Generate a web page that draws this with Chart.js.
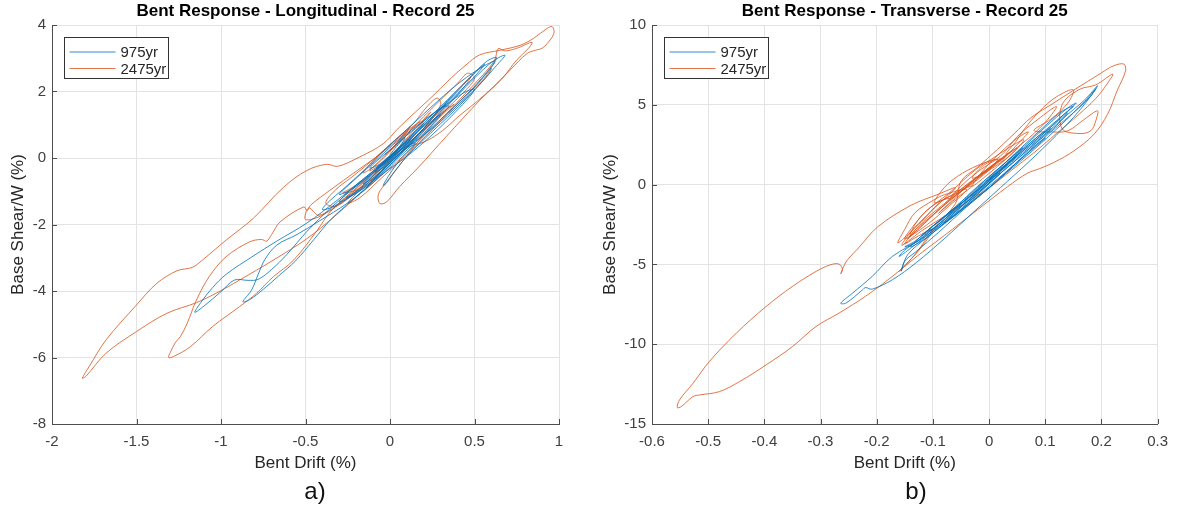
<!DOCTYPE html>
<html>
<head>
<meta charset="utf-8">
<script src="https://cdn.jsdelivr.net/npm/chart.js@4.4.1/dist/chart.umd.min.js"></script>
<style>
  body { margin: 0; background: #fff; width: 1177px; height: 506px; overflow: hidden; position: relative;
         font-family: 'Liberation Sans', Arial, Helvetica, sans-serif; }
  canvas { position: absolute; top: 0; }
  #longChart { left: 0; }
  #transChart { left: 590px; }
  .caption { position: absolute; top: 477px; font-size: 24px; line-height: 28px; color: #111; transform: translateX(-50%); }
</style>
</head>
<body>
<canvas id="longChart" width="590" height="506"></canvas>
<canvas id="transChart" width="587" height="506"></canvas>
<div class="caption" style="left:315px">a)</div>
<div class="caption" style="left:916px">b)</div>
<script>
// ============================================================
//  Bent response hysteresis - Record 25
// ============================================================

// ── Legend / series ───────────────────────────────────────
const seriesNames = ['975yr', '2475yr'];
const seriesColors = ['rgba(0,114,189,0.8)', 'rgba(217,83,25,0.8)'];

// ── Tick labels ───────────────────────────────────────────
const longDriftTicks = [-2, -1.5, -1, -0.5, 0, 0.5, 1];
const longShearTicks = [-8, -6, -4, -2, 0, 2, 4];
const transDriftTicks = [-0.6, -0.5, -0.4, -0.3, -0.2, -0.1, 0, 0.1, 0.2, 0.3];
const transShearTicks = [-15, -10, -5, 0, 5, 10];

// ── Longitudinal, 975yr: [drift %, base shear/W %] ───────
const long975 = [
  [0.00,0.10],[0.04,0.35],[0.09,0.62],[0.05,0.30],[-0.03,-0.05],[-0.08,-0.30],[-0.02,-0.12],[0.06,0.30],
  [0.14,0.75],[0.20,1.05],[0.13,0.60],[0.02,0.05],[-0.10,-0.50],[-0.16,-0.78],[-0.08,-0.52],[0.03,0.00],
  [0.15,0.60],[0.26,1.25],[0.33,1.60],[0.24,1.05],[0.10,0.40],[-0.05,-0.30],[-0.18,-0.92],[-0.26,-1.20],
  [-0.18,-1.00],[-0.05,-0.45],[0.10,0.30],[0.28,1.25],[0.45,2.15],[0.55,2.65],[0.62,2.95],[0.68,3.09],
  [0.63,2.78],[0.52,2.15],[0.38,1.42],[0.22,0.65],[0.10,0.05],[0.02,-0.45],[-0.02,-0.75],[-0.04,-0.83],
  [-0.01,-0.55],[0.06,-0.05],[0.15,0.45],[0.08,0.30],[-0.05,-0.20],[-0.20,-0.85],[-0.35,-1.50],[-0.49,-2.20],
  [-0.61,-2.90],[-0.70,-3.35],[-0.78,-3.65],[-0.84,-3.68],[-0.92,-3.67],[-1.00,-4.02],[-1.10,-4.45],[-1.155,-4.64],
  [-1.12,-4.35],[-1.05,-3.90],[-0.97,-3.50],[-0.81,-2.95],[-0.67,-2.50],[-0.49,-1.95],[-0.32,-1.30],[-0.15,-0.60],
  [0.00,0.05],[0.15,0.80],[0.30,1.55],[0.45,2.30],[0.57,2.90],[0.63,3.02],[0.60,2.75],[0.48,2.05],
  [0.34,1.35],[0.20,0.70],[0.05,0.00],[-0.10,-0.75],[-0.25,-1.35],[-0.42,-1.90],[-0.55,-2.30],[-0.67,-2.62],
  [-0.74,-3.05],[-0.78,-3.50],[-0.82,-3.98],[-0.87,-4.32],[-0.83,-4.26],[-0.75,-3.95],[-0.66,-3.55],[-0.56,-3.10],
  [-0.45,-2.45],[-0.35,-1.85],[-0.22,-1.25],[-0.10,-0.70],[0.02,-0.10],[0.12,0.45],[0.22,1.00],[0.30,1.30],
  [0.20,0.75],[0.06,0.15],[-0.06,-0.45],[-0.14,-0.90],[-0.07,-0.50],[0.04,0.05],[0.12,0.55],[0.07,0.38],
  [-0.02,-0.10],[-0.09,-0.42],[-0.03,-0.25],[0.05,0.20],[0.10,0.48],[0.04,0.22],[-0.04,-0.15],[0.02,0.12],
  [0.40,1.95],[0.50,2.45],[0.56,2.82],[0.50,2.55],[0.36,1.80],[0.18,0.90],[0.05,0.25],[-0.10,-0.40],
  [-0.24,-0.98],[-0.30,-1.32],[-0.22,-1.10],[-0.08,-0.55],[0.05,0.10],[0.15,0.50],[0.30,1.10],[0.45,1.85],
  [0.58,2.60],[0.62,2.90],[0.55,2.75],[0.42,2.30],[0.28,1.70],[0.12,0.95],[-0.02,0.30],[-0.15,-0.35],
  [-0.28,-0.95],[-0.36,-1.30],[-0.40,-1.55],[-0.33,-1.45],[-0.20,-1.05],[-0.05,-0.50],[0.10,0.05],[0.25,0.70],
  [0.40,1.45],[0.50,2.05],[0.45,2.00],[0.33,1.60],[0.18,1.05],[0.03,0.45],[-0.10,-0.15],[-0.22,-0.70],
  [-0.30,-1.10],[-0.20,-0.85],[-0.08,-0.35],[0.06,0.25],[0.20,0.85],[0.35,1.55],[0.30,1.50],[0.15,0.90],
  [0.00,0.25],[-0.12,-0.30],[-0.05,-0.15],[0.08,0.40]
];

// ── Longitudinal, 2475yr ──────────────────────────────────
const long2475 = [
  [0.00,0.20],[0.06,0.58],[0.12,0.95],[0.07,0.60],[-0.04,0.02],[-0.12,-0.38],[-0.06,-0.20],[0.05,0.32],
  [0.17,1.00],[0.24,1.38],[0.16,0.88],[0.03,0.20],[-0.10,-0.45],[-0.22,-0.88],[-0.28,-1.05],[-0.18,-0.92],
  [-0.04,-0.32],[0.12,0.55],[0.28,1.40],[0.40,2.05],[0.48,2.45],[0.42,2.02],[0.30,1.42],[0.14,0.68],
  [-0.02,-0.05],[-0.16,-0.75],[-0.30,-1.35],[-0.42,-1.72],[-0.48,-1.50],[-0.50,-1.85],[-0.40,-1.72],[-0.25,-1.20],
  [-0.08,-0.45],[0.10,0.30],[0.21,0.50],[0.31,0.82],[0.41,1.27],[0.51,1.68],[0.61,2.13],[0.71,2.64],
  [0.81,3.14],[0.86,3.24],[0.90,3.30],[0.93,3.44],[0.97,3.75],[0.96,3.95],[0.93,3.90],[0.85,3.60],
  [0.77,3.39],[0.65,3.24],[0.53,3.10],[0.45,2.80],[0.35,2.35],[0.25,1.85],[0.15,1.38],[0.05,0.90],
  [-0.04,0.43],[-0.18,0.03],[-0.31,-0.25],[-0.375,-0.19],[-0.49,-0.37],[-0.63,-0.88],[-0.81,-1.82],[-0.97,-2.47],
  [-1.11,-3.07],[-1.17,-3.29],[-1.26,-3.39],[-1.38,-3.77],[-1.50,-4.42],[-1.68,-5.47],[-1.78,-6.27],[-1.82,-6.62],
  [-1.80,-6.57],[-1.68,-5.87],[-1.50,-5.22],[-1.32,-4.67],[-1.145,-4.35],[-1.03,-4.07],[-0.89,-3.67],[-0.69,-3.07],
  [-0.49,-2.42],[-0.32,-1.72],[-0.15,-0.95],[0.00,-0.30],[0.15,0.40],[0.30,1.15],[0.42,1.80],[0.55,2.50],
  [0.62,2.95],[0.64,3.29],[0.68,3.22],[0.75,3.30],[0.84,3.48],[0.82,3.30],[0.75,2.95],[0.665,2.40],
  [0.53,1.73],[0.33,0.63],[0.17,-0.27],[0.055,-0.87],[-0.02,-1.32],[-0.06,-1.37],[-0.07,-1.12],[-0.04,-0.85],
  [0.03,-0.40],[0.12,0.20],[0.20,0.70],[0.32,1.35],[0.38,1.62],[0.28,1.25],[0.12,0.50],[-0.05,-0.25],
  [-0.20,-0.90],[-0.35,-1.60],[-0.43,-2.17],[-0.57,-3.07],[-0.69,-3.57],[-0.79,-4.07],[-0.89,-4.47],[-1.05,-5.07],
  [-1.18,-5.67],[-1.28,-5.97],[-1.31,-6.00],[-1.30,-5.85],[-1.27,-5.55],[-1.24,-5.37],[-1.20,-4.97],[-1.145,-4.27],
  [-1.07,-3.57],[-0.97,-2.97],[-0.83,-2.52],[-0.76,-2.45],[-0.73,-2.50],[-0.70,-2.30],[-0.65,-1.92],[-0.51,-1.47],
  [-0.49,-1.58],[-0.47,-1.42],[-0.35,-0.95],[-0.20,-0.40],[-0.05,0.15],[0.08,0.70],[0.18,1.10],[0.10,0.82],
  [-0.02,0.30],[-0.10,-0.10],[-0.16,-0.45],[-0.08,-0.20],[0.03,0.35],[0.12,0.78],[0.06,0.50],[-0.03,0.10],
  [0.05,0.45],[0.20,1.25],[0.32,1.85],[0.40,2.25],[0.46,2.55],[0.50,2.40],[0.45,2.05],[0.35,1.55],
  [0.22,0.90],[0.08,0.25],[-0.08,-0.45],[-0.22,-1.10],[-0.32,-1.45],[-0.38,-1.35],[-0.32,-0.95],[-0.22,-0.55],
  [-0.10,-0.05],[0.02,0.50],[0.14,1.05],[0.22,1.55],[0.28,1.80],[0.30,1.60],[0.24,1.15],[0.14,0.55],
  [0.02,-0.05],[-0.12,-0.70],[-0.25,-1.35],[-0.18,-1.20],[-0.05,-0.60],[0.10,0.10],[0.25,0.85],[0.42,1.75],
  [0.55,2.35],[0.60,2.70],[0.58,2.50],[0.48,1.95],[0.35,1.35]
];

// ── Transverse, 975yr ─────────────────────────────────────
const trans975 = [
  [0.00,0.40],[0.03,1.40],[0.06,2.30],[0.04,1.60],[0.00,0.30],[-0.04,-0.90],[-0.07,-1.70],[-0.05,-1.20],
  [-0.01,0.10],[0.03,1.20],[0.05,1.80],[0.02,1.00],[-0.02,-0.30],[-0.06,-1.50],[-0.10,-2.60],[-0.12,-3.20],
  [-0.09,-2.50],[-0.05,-1.20],[0.00,0.20],[0.05,1.80],[0.09,3.00],[0.12,3.90],[0.14,4.50],[0.12,3.70],
  [0.08,2.50],[0.03,1.00],[-0.03,-0.80],[-0.08,-2.20],[-0.13,-3.60],[-0.15,-4.10],[-0.16,-4.50],[-0.14,-4.00],
  [-0.10,-2.90],[-0.05,-1.40],[0.01,0.40],[0.07,2.20],[0.13,4.10],[0.17,5.30],[0.193,6.19],[0.18,5.50],
  [0.15,4.50],[0.11,3.30],[0.06,1.70],[0.00,-0.10],[-0.06,-1.90],[-0.12,-3.40],[-0.172,-4.50],[-0.208,-5.75],
  [-0.243,-6.80],[-0.264,-7.43],[-0.255,-7.43],[-0.225,-6.59],[-0.22,-6.45],[-0.208,-6.55],[-0.172,-5.96],[-0.13,-4.90],
  [-0.08,-3.40],[-0.03,-1.80],[0.02,-0.20],[0.07,1.40],[0.12,3.10],[0.16,4.60],[0.19,6.00],[0.17,5.20],
  [0.13,3.80],[0.08,2.20],[0.03,0.70],[-0.02,-0.80],[-0.07,-2.20],[-0.11,-3.30],[-0.145,-4.40],[-0.156,-5.42],
  [-0.150,-4.79],[-0.13,-4.20],[-0.09,-3.00],[-0.04,-1.40],[0.01,0.10],[0.06,1.70],[0.10,2.90],[0.08,2.40],
  [0.04,1.10],[0.00,-0.20],[-0.04,-1.30],[-0.08,-2.40],[-0.06,-1.90],[-0.02,-0.60],[0.02,0.70],[0.00,0.30],
  [0.02,0.90],[0.06,2.10],[0.10,3.30],[0.13,4.30],[0.15,4.90],[0.13,4.60],[0.10,3.70],[0.06,2.40],
  [0.02,1.10],[-0.02,-0.10],[-0.06,-1.40],[-0.10,-2.60],[-0.13,-3.50],[-0.15,-3.90],[-0.13,-3.60],[-0.10,-2.80],
  [-0.06,-1.60],[-0.02,-0.40],[0.02,0.80],[0.06,2.00],[0.09,2.90],[0.11,3.50],[0.09,3.10],[0.05,1.90],
  [0.01,0.60],[-0.03,-0.60],[-0.07,-1.80],[-0.11,-2.90],[-0.09,-2.60],[-0.05,-1.40],[-0.01,-0.10],[0.03,1.20],
  [0.07,2.50],[0.12,4.00],[0.155,5.10],[0.14,4.80],[0.10,3.60],[0.05,2.00],[0.00,0.50],[-0.04,-0.80],
  [-0.08,-2.00],[-0.12,-3.20],[-0.14,-3.90],[-0.11,-3.30],[-0.07,-2.10],[-0.03,-0.90],[0.01,0.40]
];

// ── Transverse, 2475yr ────────────────────────────────────
const trans2475 = [
  [-0.02,0.40],[0.01,1.30],[0.04,2.10],[0.02,1.60],[-0.02,0.50],[-0.05,-0.40],[-0.07,-0.90],[-0.05,-0.10],
  [-0.02,0.80],[0.01,1.50],[0.02,1.60],[-0.01,0.80],[-0.05,-0.30],[-0.097,-1.15],[-0.08,-0.20],[-0.056,0.52],
  [-0.02,1.20],[0.015,1.56],[-0.01,0.60],[-0.05,-0.40],[-0.085,-1.05],[-0.12,-2.30],[-0.162,-3.65],[-0.15,-2.80],
  [-0.132,-1.77],[-0.10,-1.00],[-0.079,-0.63],[-0.04,-0.31],[-0.07,-1.30],[-0.11,-2.50],[-0.15,-3.40],[-0.135,-2.60],
  [-0.11,-1.60],[-0.07,-0.50],[-0.038,0.52],[-0.01,1.30],[0.003,1.56],[0.035,2.30],[0.062,2.81],[0.04,1.90],
  [0.00,0.90],[-0.03,0.40],[-0.01,1.20],[0.02,1.77],[0.05,3.00],[0.08,3.90],[0.12,4.90],[0.10,3.90],
  [0.06,2.60],[0.03,1.90],[0.05,2.80],[0.062,3.44],[0.09,4.60],[0.12,5.50],[0.15,5.94],[0.14,5.10],
  [0.11,4.10],[0.08,3.40],[0.11,3.30],[0.14,3.37],[0.17,4.10],[0.193,4.62],[0.19,4.00],[0.181,3.37],
  [0.16,3.20],[0.13,3.50],[0.13,5.00],[0.16,5.95],[0.19,6.25],[0.22,6.92],[0.21,6.30],[0.19,5.40],
  [0.16,4.40],[0.12,3.20],[0.08,2.00],[0.04,0.90],[0.00,-0.20],[-0.04,-1.10],[-0.08,-2.00],[-0.12,-2.90],
  [-0.155,-3.80],[-0.14,-3.00],[-0.11,-1.90],[-0.08,-0.90],[-0.06,-0.20],[-0.09,-0.60],[-0.139,-1.30],[-0.198,-2.64],
  [-0.232,-3.95],[-0.252,-4.71],[-0.257,-5.00],[-0.262,-5.40],[-0.264,-5.59],[-0.261,-5.30],[-0.267,-4.98],[-0.282,-5.02],
  [-0.308,-5.44],[-0.350,-6.38],[-0.397,-7.64],[-0.450,-9.31],[-0.498,-11.09],[-0.527,-12.45],[-0.551,-13.49],[-0.555,-13.97],
  [-0.548,-13.91],[-0.527,-13.28],[-0.515,-13.18],[-0.480,-12.97],[-0.444,-12.34],[-0.397,-11.30],[-0.350,-10.15],[-0.308,-8.89],
  [-0.267,-8.05],[-0.220,-7.00],[-0.172,-5.75],[-0.125,-4.40],[-0.080,-3.20],[-0.021,-1.59],[0.033,-0.13],[0.068,0.71],
  [0.090,1.00],[0.116,1.40],[0.151,2.11],[0.187,3.16],[0.211,4.41],[0.228,5.88],[0.243,7.13],[0.240,7.55],
  [0.222,7.45],[0.200,7.00],[0.175,6.45],[0.150,5.90],[0.110,5.00],[0.075,4.20],[0.045,3.20],[0.015,2.20],
  [-0.02,1.10],[-0.05,0.20],[-0.06,-1.20],[-0.10,-2.80],[-0.13,-4.30],[-0.16,-5.44],[-0.145,-4.90],[-0.12,-3.90],
  [-0.10,-2.80],[-0.13,-3.30],[-0.15,-3.70],[-0.12,-2.40],[-0.08,-1.20],[-0.04,0.00],[0.00,1.00],[0.03,1.80],
  [0.01,1.20],[-0.02,0.40],[-0.06,-0.70],[-0.10,-1.90],[-0.14,-3.20],[-0.13,-2.40],[-0.11,-1.60],[-0.085,-1.00],
  [-0.07,-0.90],[-0.09,-1.60],[-0.12,-2.60],[-0.145,-3.40],[-0.13,-2.80],[-0.10,-1.90],[-0.07,-1.00],[-0.04,-0.20],
  [-0.03,-0.10],[-0.06,-0.90],[-0.09,-1.80],[-0.06,-0.80],[-0.03,0.20],[0.00,1.00],[0.03,1.80],[0.05,2.30],
  [0.03,1.60],[0.00,0.70],[-0.03,-0.10],[-0.01,0.90],[0.02,2.00],[0.05,2.90],[0.07,3.30],[0.05,2.50],
  [0.02,1.40]
];

const FONT = "'Liberation Sans', Arial, Helvetica, sans-serif";

// ── Helpers ────────────────────────────────────────────────
const toPoints = arr => arr.map(p => ({ x: p[0], y: p[1] }));
const fixedTicks = list => scale => { scale.ticks = list.map(v => ({ value: v })); };

// title, inward tick marks and boxed legend inside the axes
function panelDecor(title) {
    return {
        id: 'panelDecor',
        afterDraw(chart) {
            const { ctx, chartArea: a, scales } = chart;
            ctx.save();

            ctx.strokeStyle = '#4d4d4d';
            ctx.lineWidth = 1;
            ctx.beginPath();
            scales.x.ticks.forEach(t => {
                const px = Math.round(scales.x.getPixelForValue(t.value)) + 0.5;
                ctx.moveTo(px, a.bottom); ctx.lineTo(px, a.bottom - 5);
            });
            scales.y.ticks.forEach(t => {
                const py = Math.round(scales.y.getPixelForValue(t.value)) + 0.5;
                ctx.moveTo(a.left, py); ctx.lineTo(a.left + 5, py);
            });
            ctx.stroke();

            ctx.fillStyle = '#000';
            ctx.font = 'bold 17px ' + FONT;
            ctx.textAlign = 'center';
            ctx.textBaseline = 'middle';
            ctx.fillText(title, (a.left + a.right) / 2, 11);

            const bx = Math.round(a.left + 12) + 0.5, by = Math.round(a.top + 12) + 0.5;
            ctx.fillStyle = '#fff';
            ctx.fillRect(bx, by, 104, 41);
            ctx.strokeStyle = '#333';
            ctx.strokeRect(bx, by, 104, 41);
            ctx.font = '15px ' + FONT;
            ctx.textAlign = 'left';
            seriesNames.forEach((name, i) => {
                const ly = by + 14.5 + i * 16.5;
                ctx.strokeStyle = seriesColors[i];
                ctx.lineWidth = 1.2;
                ctx.beginPath(); ctx.moveTo(bx + 5, ly); ctx.lineTo(bx + 51, ly); ctx.stroke();
                ctx.fillStyle = '#262626';
                ctx.fillText(name, bx + 56, ly + 1);
            });
            ctx.restore();
        }
    };
}

function buildPanel(canvasId, cfg) {
    const datasets = cfg.series.map((s, i) => ({
        label: seriesNames[i],
        data: toPoints(s),
        showLine: true,
        borderColor: seriesColors[i],
        borderWidth: 1,
        pointRadius: 0,
        tension: 0.35,
        fill: false
    }));
    return new Chart(document.getElementById(canvasId), {
        type: 'scatter',
        data: { datasets },
        options: {
            responsive: false, animation: false, devicePixelRatio: 1,
            layout: { padding: { top: 25, right: cfg.padRight, left: 0, bottom: 0 } },
            plugins: { legend: { display: false }, tooltip: { enabled: false }, title: { display: false } },
            scales: {
                x: {
                    min: cfg.xTicks[0], max: cfg.xTicks[cfg.xTicks.length - 1],
                    afterBuildTicks: fixedTicks(cfg.xTicks),
                    afterFit: s => { s.height = 82; },
                    grid: { color: '#e3e3e3', drawTicks: false },
                    border: { color: '#4d4d4d', width: 1 },
                    ticks: { padding: 9, color: '#404040', maxRotation: 0, autoSkip: false,
                             font: { size: 15, family: FONT }, callback: v => String(v) },
                    title: { display: true, text: 'Bent Drift (%)', color: '#262626',
                             font: { size: 17, family: FONT }, padding: { top: 0, bottom: 32 } }
                },
                y: {
                    min: cfg.yTicks[0], max: cfg.yTicks[cfg.yTicks.length - 1],
                    afterBuildTicks: fixedTicks(cfg.yTicks),
                    afterFit: s => { s.width = cfg.axisLeft; },
                    grid: { color: '#e3e3e3', drawTicks: false },
                    border: { color: '#4d4d4d', width: 1 },
                    ticks: { padding: 6, color: '#404040', autoSkip: false,
                             font: { size: 15, family: FONT }, callback: v => String(v) },
                    title: { display: true, text: 'Base Shear/W (%)', color: '#262626',
                             font: { size: 17, family: FONT }, padding: { top: cfg.yTitlePad, bottom: 0 } }
                }
            }
        },
        plugins: [panelDecor(cfg.title)]
    });
}

buildPanel('longChart', {
    title: 'Bent Response - Longitudinal - Record 25',
    series: [long975, long2475],
    xTicks: longDriftTicks, yTicks: longShearTicks,
    axisLeft: 52, padRight: 31, yTitlePad: 8
});

buildPanel('transChart', {
    title: 'Bent Response - Transverse - Record 25',
    series: [trans975, trans2475],
    xTicks: transDriftTicks, yTicks: transShearTicks,
    axisLeft: 62, padRight: 18, yTitlePad: 10
});
</script>
</body>
</html>
